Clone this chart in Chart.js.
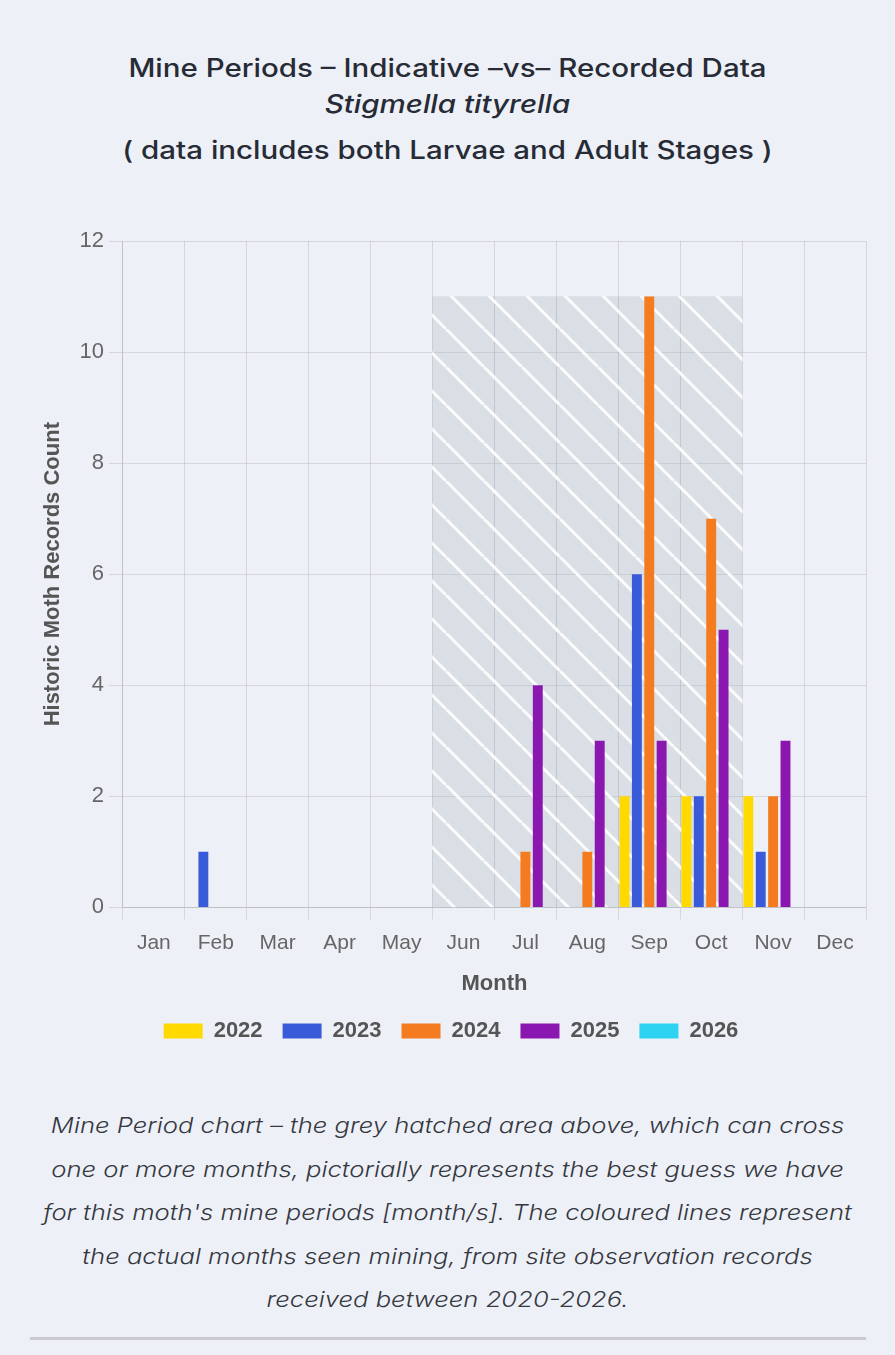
<!DOCTYPE html>
<html lang="en">
<head>
  <meta charset="UTF-8" />
  <title>Mine Periods – Stigmella tityrella</title>
  <script src="https://cdn.jsdelivr.net/npm/chart.js"></script>
  <style>
    body {
      margin: 0;
      background: #eef0f7;
      font-family: Inter, "Liberation Sans", sans-serif;
      width: 895px;
      height: 1355px;
      overflow: hidden;
    }
    .title {
      text-align: center;
      color: #262b36;
      font-weight: 500;
      font-size: 25px;
      padding-top: 50px;
    }
    .title div { line-height: 36px; transform: scaleX(1.18); }
    .title .species { font-style: italic; }
    .title .stages { line-height: 40px; margin-top: 8px; }
    .chart-container {
      position: relative;
      margin: 45px 0 0 28px;
      width: 850px;
      height: 845px;
    }
    .caption {
      margin: 44px 0 0 0;
      text-align: center;
      font-style: italic;
      font-weight: 300;
      font-size: 22px;
      line-height: 43.5px;
      color: #35383f;
      white-space: nowrap;
      transform: scaleX(1.165);
    }
    hr {
      margin: 15px 29px 0 30px;
      border: 0;
      border-top: 3px solid #c9cbd1;
    }
  </style>
</head>
<body>

  <div class="title">
    <div>Mine Periods – Indicative –vs– Recorded Data</div>
    <div class="species">Stigmella tityrella</div>
    <div class="stages">( data includes both Larvae and Adult Stages )</div>
  </div>

  <div class="chart-container">
    <canvas id="mineChart"></canvas>
  </div>

  <p class="caption">
    Mine Period chart – the grey hatched area above, which can cross<br>
    one or more months, pictorially represents the best guess we have<br>
    for this moth's mine periods [month/s]. The coloured lines represent<br>
    the actual months seen mining, from site observation records<br>
    received between 2020-2026.
  </p>
  <hr>

  <script>
    const months = ['Jan', 'Feb', 'Mar', 'Apr', 'May', 'Jun', 'Jul', 'Aug', 'Sep', 'Oct', 'Nov', 'Dec'];
    const years = ['2022', '2023', '2024', '2025', '2026'];
    const yearColours = ['#ffd900', '#3a5bd9', '#f47b20', '#8a17af', '#2fd3f2'];

    // records per month, one array per year
    const counts2022 = [0, 0, 0, 0, 0, 0, 0, 0, 2, 2, 2, 0];
    const counts2023 = [0, 1, 0, 0, 0, 0, 0, 0, 6, 2, 1, 0];
    const counts2024 = [0, 0, 0, 0, 0, 0, 1, 1, 11, 7, 2, 0];
    const counts2025 = [0, 0, 0, 0, 0, 0, 4, 3, 3, 5, 3, 0];
    const counts2026 = [0, 0, 0, 0, 0, 0, 0, 0, 0, 0, 0, 0];

    // indicative mine period (the hatched block)
    const minePeriodMonths = ['Jun', 'Jul', 'Aug', 'Sep', 'Oct'];
    const minePeriodHeight = 11;

    const yMax = 12;
    const yStep = 2;

    function hatchPattern() {
      const size = 38;
      const c = document.createElement('canvas');
      c.width = size;
      c.height = size;
      const ctx = c.getContext('2d');
      ctx.fillStyle = 'rgba(168,174,180,0.27)';
      ctx.fillRect(0, 0, size, size);
      ctx.strokeStyle = 'rgba(255,255,255,0.9)';
      ctx.lineWidth = 3;
      ctx.beginPath();
      for (let k = -1; k <= 1; k++) {
        ctx.moveTo(k * size, 0);
        ctx.lineTo(k * size + size, size);
      }
      ctx.stroke();
      return ctx.createPattern(c, 'repeat');
    }

    const allCounts = [counts2022, counts2023, counts2024, counts2025, counts2026];

    const yearDatasets = years.map((y, i) => ({
      label: y,
      data: allCounts[i],
      backgroundColor: yearColours[i],
      borderWidth: 0,
      categoryPercentage: 1.0,
      barPercentage: 0.8,
      order: 0
    }));

    const mineDataset = {
      label: 'Mine period',
      data: months.map(m => minePeriodMonths.includes(m) ? minePeriodHeight : null),
      backgroundColor: hatchPattern(),
      borderWidth: 0,
      grouped: false,
      categoryPercentage: 1.0,
      barPercentage: 1.0,
      order: 1
    };

    Chart.defaults.font.family = '"Liberation Sans", Arial, sans-serif';

    new Chart(document.getElementById('mineChart'), {
      type: 'bar',
      data: {
        labels: months,
        datasets: [...yearDatasets, mineDataset]
      },
      options: {
        responsive: true,
        maintainAspectRatio: false,
        animation: false,
        layout: { padding: { top: 26, right: 12, left: 8, bottom: 8 } },
        scales: {
          x: {
            grid: { tickLength: 12 },
            ticks: { color: '#666', font: { size: 21 }, padding: 11 },
            title: {
              display: true,
              text: 'Month',
              color: '#555',
              font: { size: 22, weight: 'bold' },
              padding: { top: 4, bottom: 3 }
            }
          },
          y: {
            min: 0,
            max: yMax,
            grid: { tickLength: 14 },
            ticks: { stepSize: yStep, color: '#666', font: { size: 22 }, padding: 5 },
            title: {
              display: true,
              text: 'Historic Moth Records Count',
              color: '#555',
              font: { size: 22, weight: 'bold' },
              padding: { bottom: 8 }
            }
          }
        },
        plugins: {
          legend: {
            position: 'bottom',
            labels: {
              boxWidth: 39,
              boxHeight: 15,
              padding: 20,
              color: '#555',
              font: { size: 22, weight: 'bold' },
              filter: item => item.datasetIndex < years.length
            }
          },
          tooltip: { enabled: false }
        }
      }
    });
  </script>
</body>
</html>
